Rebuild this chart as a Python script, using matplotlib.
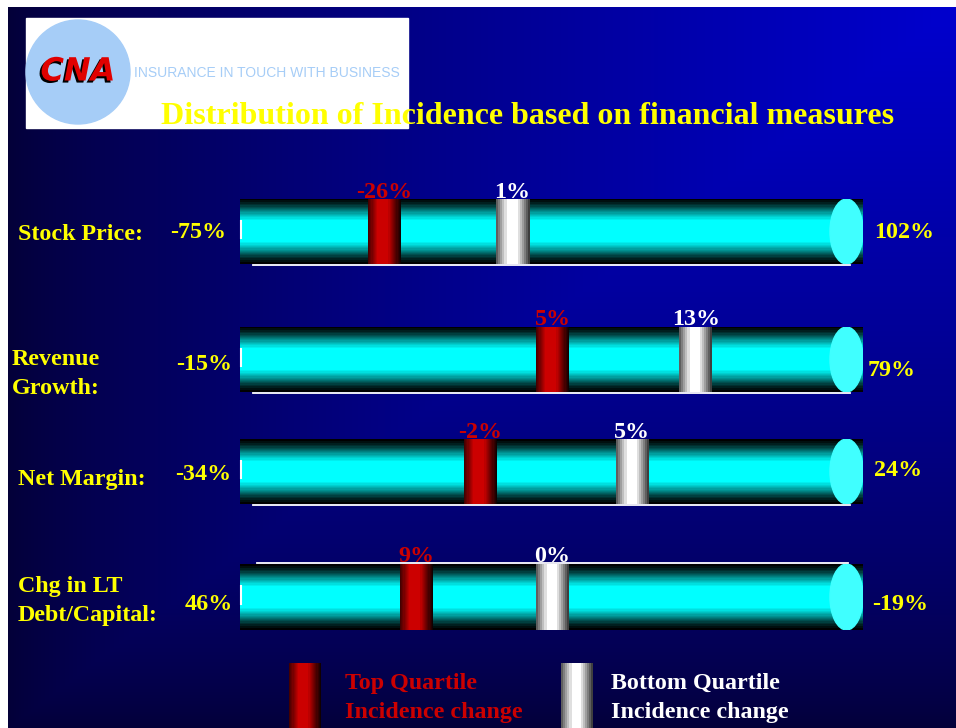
import numpy as np
import matplotlib
matplotlib.use("Agg")
import matplotlib.pyplot as plt
import matplotlib.patheffects as pe
from matplotlib.patches import Rectangle, Circle, Ellipse

plt.rcParams['font.family'] = ['Liberation Serif', 'DejaVu Serif']
plt.rcParams['font.weight'] = 'bold'

# financial measures and the spread of each one
measures = ['Stock Price:', 'Revenue\nGrowth:', 'Net Margin:', 'Chg in LT\nDebt/Capital:']
range_lo = [-75, -15, -34, 46]
range_hi = [102, 79, 24, -19]

# where each quartile falls on the measure's spread
top_q_at = [-33.9, 32.2, -11.6, 27.6]
bottom_q_at = [2.4, 53.8, 2.5, 13.4]

# incidence change per quartile
top_q_change = [-26, 5, -2, 9]
bottom_q_change = [1, 13, 5, 0]

title = 'Distribution of Incidence based on financial measures'
legend_labels = ['Top Quartile\nIncidence change', 'Bottom Quartile\nIncidence change']

YELLOW = '#ffff00'
RED = '#cc0000'
LOGO_BLUE = '#a6cdf7'
FS = 17.3

W, H = 956, 728
bar_x0, bar_x1 = 240, 863
bar_rows = [(199, 264), (327, 392), (439, 504), (564, 630)]
base_lines = [(253, 850, 265), (253, 850, 393), (253, 850, 505), (257, 848, 563)]
left_lbl = [(226, 232), (232, 365), (231, 475), (233, 604)]
right_lbl = [(874, 232), (868, 370), (874, 471), (872, 605)]
row_lbl = [(18, 234), (12, 374), (18, 479), (18, 601)]
marker_px = 33


def cylinder_rows(n=65):
    t = (np.arange(n) + 0.5) / n
    f = np.clip(1.2 * np.sin(np.pi * t) ** 1.6, 0, 1)
    f = np.round(f * 16) / 16
    img = np.zeros((n, 1, 3))
    img[:, 0, 1] = f
    img[:, 0, 2] = f
    return img


def stick(kind, n=33):
    t = (np.arange(n) + 0.5) / n
    img = np.zeros((1, n, 3))
    if kind == 'red':
        f = np.interp(t, [0, 0.3, 0.6, 1], [0.3, 1, 1, 0.05])
        f = np.round(f * 12) / 12
        img[0, :, 0] = 0.8 * f
    else:
        f = np.interp(t, [0, 0.35, 0.62, 1], [0.3, 1, 1, 0.18])
        f = np.round(f * 8) / 8
        img[0, :, :] = f[:, None]
    return img


fig = plt.figure(figsize=(W / 100, H / 100), dpi=100, facecolor='white')

# slide background, brightest in the top right corner
bg = fig.add_axes([0, 0, 1, 1])
yy, xx = np.mgrid[7:H, 8:W]
d = np.maximum((W - xx) / (W - 8), (yy - 7) / (H - 7))
t = (1 - np.clip(d, 0, 1)) ** 0.75
bright = np.array([0, 0, 206]) / 255
dark = np.array([4, 0, 56]) / 255
bg.imshow(dark + (bright - dark) * t[..., None], extent=(8, W, H, 7),
          interpolation='bilinear', aspect='auto')

# logo block
bg.add_patch(Rectangle((26, 18), 382, 110, color='white', zorder=2))
bg.add_patch(Circle((78, 72), 52, color=LOGO_BLUE, zorder=3))
bg.text(78, 72, 'CNA', family='DejaVu Sans', style='italic', weight='heavy',
        fontsize=23, color='#e00000', ha='center', va='center', zorder=5,
        path_effects=[pe.SimplePatchShadow(offset=(-1.5, -1.5), shadow_rgbFace='black', alpha=1),
                      pe.Normal()])
bg.text(134, 73, 'INSURANCE IN TOUCH WITH BUSINESS', family='Liberation Sans',
        weight='normal', fontsize=10, color=LOGO_BLUE, ha='left', va='center', zorder=4)

bg.text(528, 117, title, fontsize=23, color=YELLOW, ha='center', va='center', zorder=6)

for i, name in enumerate(measures):
    top, bot = bar_rows[i]
    lo, hi = range_lo[i], range_hi[i]

    bg.text(row_lbl[i][0], row_lbl[i][1], name, fontsize=FS, color=YELLOW,
            ha='left', va='center', linespacing=1.45)
    bg.text(left_lbl[i][0], left_lbl[i][1], f'{lo}%', fontsize=FS, color=YELLOW,
            ha='right', va='center')
    bg.text(right_lbl[i][0], right_lbl[i][1], f'{hi}%', fontsize=FS, color=YELLOW,
            ha='left', va='center')
    x0, x1, yl = base_lines[i]
    bg.plot([x0, x1], [yl, yl], color='white', lw=1.3, zorder=2)

    ax = fig.add_axes([bar_x0 / W, 1 - bot / H, (bar_x1 - bar_x0) / W, (bot - top) / H])
    ax.set_xlim(lo, hi)
    ax.set_ylim(0, 1)
    ax.axis('off')
    ax.imshow(cylinder_rows(), extent=(lo, hi, 0, 1), aspect='auto', interpolation='nearest')

    # rounded end of the tube
    span = bar_x1 - bar_x0
    ax.add_patch(Ellipse((1 - marker_px / 2 / span, 0.5), marker_px / span, 1.0,
                         transform=ax.transAxes, color='#40ffff', zorder=3))
    ax.plot([0.001, 0.001], [0.4, 0.66], transform=ax.transAxes, color='white',
            lw=1.5, clip_on=False, zorder=3)

    w = marker_px / span * abs(hi - lo)
    sgn = 1 if hi > lo else -1
    for v, c, kind, col in [(top_q_at[i], top_q_change[i], 'red', RED),
                            (bottom_q_at[i], bottom_q_change[i], 'white', 'white')]:
        ax.imshow(stick(kind), extent=(v - sgn * w / 2, v + sgn * w / 2, 0, 1),
                  aspect='auto', interpolation='nearest', zorder=4)
        ax.text(v, 1 + 1.5 / (bot - top), f'{c}%', transform=ax.get_xaxis_transform(),
                ha='center', va='baseline', fontsize=FS, color=col, zorder=5)
    ax.set_xlim(lo, hi)
    ax.set_ylim(0, 1)

# legend
for (sx, tx), kind, col, lbl in [((289, 345), 'red', RED, legend_labels[0]),
                                 ((561, 611), 'white', 'white', legend_labels[1])]:
    bg.imshow(stick(kind), extent=(sx, sx + 32, H, 663), aspect='auto',
              interpolation='nearest', zorder=2)
    bg.text(tx, 698, lbl, fontsize=FS, color=col, ha='left', va='center', linespacing=1.5)

bg.set_xlim(0, W)
bg.set_ylim(H, 0)
bg.axis('off')

fig.savefig('out.png', dpi=100, facecolor='white')
